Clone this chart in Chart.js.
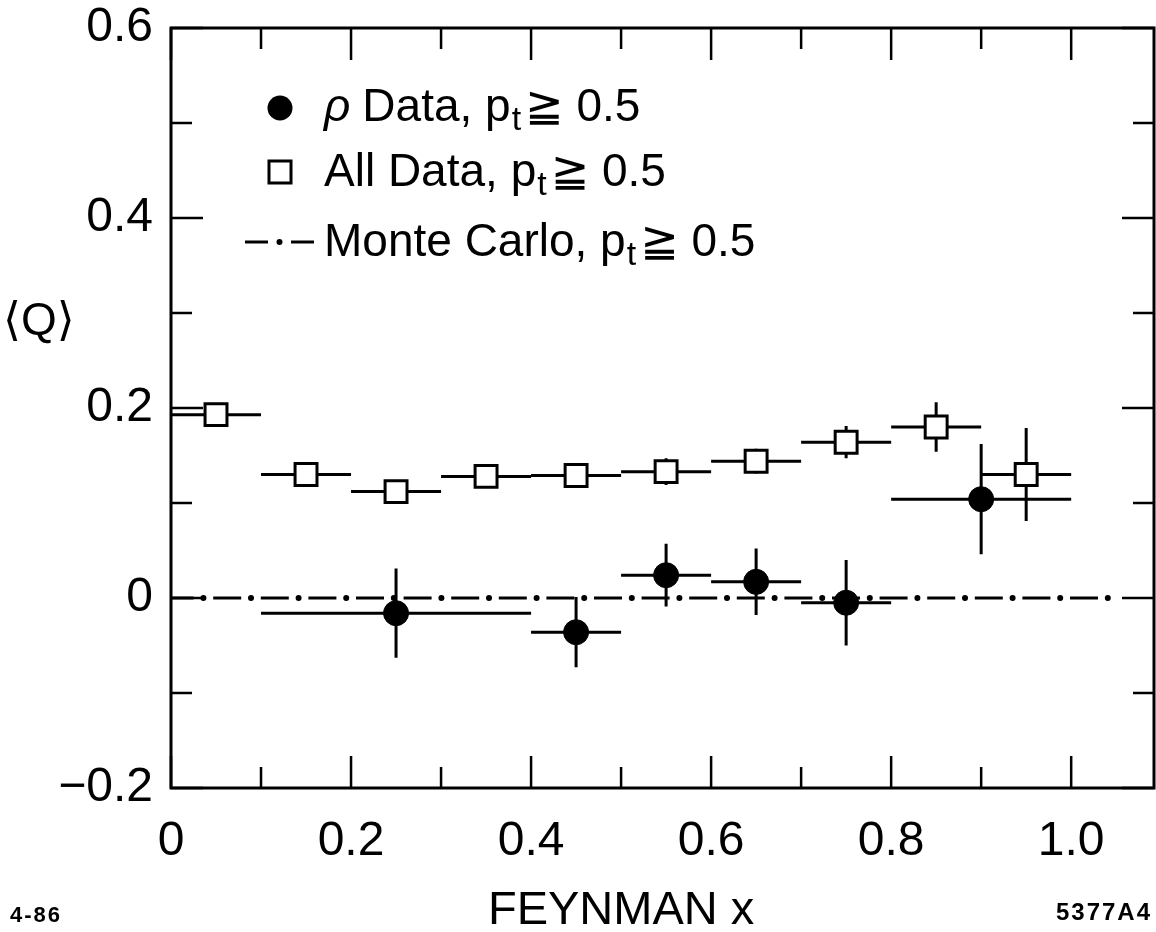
<!DOCTYPE html>
<html>
<head>
<meta charset="utf-8">
<script src="https://cdn.jsdelivr.net/npm/chart.js@4"></script>
<style>
  body { margin: 0; background: #fff; }
</style>
</head>
<body>
<canvas id="qChart" width="1156" height="932"></canvas>
<script>
// rho data, pt >= 0.5
const rhoX = [0.25, 0.45, 0.55, 0.65, 0.75, 0.90];
const rhoY = [-0.016, -0.036, 0.024, 0.017, -0.005, 0.104];
const rhoXLo = [0.10, 0.40, 0.50, 0.60, 0.70, 0.80];
const rhoXHi = [0.40, 0.50, 0.60, 0.70, 0.80, 1.00];
const rhoYErr = [0.047, 0.037, 0.033, 0.035, 0.045, 0.058];

// all data, pt >= 0.5
const allX = [0.05, 0.15, 0.25, 0.35, 0.45, 0.55, 0.65, 0.75, 0.85, 0.95];
const allY = [0.193, 0.130, 0.112, 0.128, 0.129, 0.133, 0.144, 0.164, 0.180, 0.130];
const allXLo = [0.0, 0.1, 0.2, 0.3, 0.4, 0.5, 0.6, 0.7, 0.8, 0.9];
const allXHi = [0.1, 0.2, 0.3, 0.4, 0.5, 0.6, 0.7, 0.8, 0.9, 1.0];
const allYErr = [0.006, 0.006, 0.006, 0.006, 0.006, 0.014, 0.013, 0.017, 0.026, 0.049];

// monte carlo
const mcX = [0, 1.045];
const mcY = [0, 0];

const xTickVals = [0, 0.2, 0.4, 0.6, 0.8, 1.0];
const xTickLabels = ['0', '0.2', '0.4', '0.6', '0.8', '1.0'];
const xMinorVals = [0.1, 0.3, 0.5, 0.7, 0.9];
const yTickVals = [-0.2, 0, 0.2, 0.4, 0.6];
const yTickLabels = ['\u22120.2', '0', '0.2', '0.4', '0.6'];
const yMinorVals = [-0.1, 0.1, 0.3, 0.5];

const legendLabels = ['Data, p', 'All Data, p', 'Monte Carlo, p'];

const FONT = '"Liberation Sans", "DejaVu Sans", sans-serif';

const toPoints = (xs, ys) => xs.map((x, i) => ({x: x, y: ys[i]}));

const noPad = s => { s.paddingTop = 0; s.paddingBottom = 0; s.paddingLeft = 0; s.paddingRight = 0; };

const extras = {
    id: 'extras',
    beforeDatasetsDraw(chart) {
        const ctx = chart.ctx;
        const xs = chart.scales.x, ys = chart.scales.y;
        ctx.save();
        ctx.strokeStyle = '#000';
        ctx.lineWidth = 3;
        const bars = (X, Y, lo, hi, err) => {
            for (let i = 0; i < X.length; i++) {
                const px = xs.getPixelForValue(X[i]);
                const py = ys.getPixelForValue(Y[i]);
                ctx.beginPath();
                ctx.moveTo(xs.getPixelForValue(lo[i]), py);
                ctx.lineTo(xs.getPixelForValue(hi[i]), py);
                ctx.moveTo(px, ys.getPixelForValue(Y[i] + err[i]));
                ctx.lineTo(px, ys.getPixelForValue(Y[i] - err[i]));
                ctx.stroke();
            }
        };
        bars(allX, allY, allXLo, allXHi, allYErr);
        bars(rhoX, rhoY, rhoXLo, rhoXHi, rhoYErr);
        ctx.restore();
    },
    afterDraw(chart) {
        const ctx = chart.ctx;
        const a = chart.chartArea;
        const xs = chart.scales.x, ys = chart.scales.y;
        ctx.save();
        ctx.strokeStyle = '#000';
        ctx.fillStyle = '#000';

        // frame
        ctx.lineWidth = 3;
        ctx.strokeRect(a.left, a.top, a.right - a.left, a.bottom - a.top);

        // inward ticks
        ctx.lineWidth = 2.5;
        const xTick = (v, len) => {
            const px = xs.getPixelForValue(v);
            ctx.beginPath();
            ctx.moveTo(px, a.bottom); ctx.lineTo(px, a.bottom - len);
            ctx.moveTo(px, a.top); ctx.lineTo(px, a.top + len);
            ctx.stroke();
        };
        const yTick = (v, len) => {
            const py = ys.getPixelForValue(v);
            ctx.beginPath();
            ctx.moveTo(a.left, py); ctx.lineTo(a.left + len, py);
            ctx.moveTo(a.right, py); ctx.lineTo(a.right - len, py);
            ctx.stroke();
        };
        xTickVals.forEach(v => xTick(v, 32));
        xMinorVals.forEach(v => xTick(v, 21));
        yTickVals.forEach(v => yTick(v, 32));
        yMinorVals.forEach(v => yTick(v, 21));

        // axis titles
        ctx.textBaseline = 'alphabetic';
        ctx.textAlign = 'center';
        ctx.font = '47px ' + FONT;
        ctx.fillText('FEYNMAN x', xs.getPixelForValue(0.5), 924);
        ctx.textAlign = 'left';
        ctx.font = '46px ' + FONT;
        ctx.fillText('\u27E8Q\u27E9', 3, 335);

        // plate numbers
        ctx.font = 'bold 22px ' + FONT;
        ctx.letterSpacing = '2px';
        ctx.fillText('4-86', 10, 922);
        ctx.textAlign = 'right';
        ctx.font = 'bold 24px ' + FONT;
        ctx.fillText('5377A4', 1152, 920);
        ctx.letterSpacing = '0px';

        // legend markers
        ctx.beginPath();
        ctx.arc(280, 108, 12.5, 0, Math.PI * 2);
        ctx.fill();
        ctx.lineWidth = 3;
        ctx.strokeRect(269, 161, 22, 22);
        ctx.beginPath();
        ctx.moveTo(245, 242); ctx.lineTo(268, 242);
        ctx.moveTo(291, 242); ctx.lineTo(314, 242);
        ctx.stroke();
        ctx.beginPath();
        ctx.arc(279.5, 242, 3, 0, Math.PI * 2);
        ctx.fill();

        // legend text with subscript t
        ctx.textAlign = 'left';
        const rows = [121, 186, 256];
        rows.forEach((by, i) => {
            let x = 324;
            if (i === 0) {
                ctx.font = 'italic 46px ' + FONT;
                ctx.fillText('\u03C1', x, by);
                x += ctx.measureText('\u03C1').width + 12;
            }
            ctx.font = '46px ' + FONT;
            ctx.fillText(legendLabels[i], x, by);
            x += ctx.measureText(legendLabels[i]).width + 1;
            ctx.font = '34px ' + FONT;
            ctx.fillText('t', x, by + 9);
            x += ctx.measureText('t').width + 4;
            ctx.font = '46px ' + FONT;
            ctx.fillText('\u2267 0.5', x, by);
        });
        ctx.restore();
    }
};

new Chart(document.getElementById('qChart').getContext('2d'), {
    type: 'scatter',
    data: {
        datasets: [
            {
                label: '\u03C1 Data, pt \u2267 0.5',
                data: toPoints(rhoX, rhoY),
                pointStyle: 'circle',
                pointRadius: 12.5,
                pointBackgroundColor: '#000',
                pointBorderColor: '#000',
                pointBorderWidth: 1,
                order: 1
            },
            {
                label: 'All Data, pt \u2267 0.5',
                data: toPoints(allX, allY),
                pointStyle: 'rect',
                pointRadius: 15.5,
                pointBackgroundColor: '#fff',
                pointBorderColor: '#000',
                pointBorderWidth: 3,
                order: 2
            },
            {
                // dashes of the dash-dot line
                label: 'Monte Carlo, pt \u2267 0.5',
                type: 'line',
                data: toPoints(mcX, mcY),
                showLine: true,
                pointRadius: 0,
                borderColor: '#000',
                borderWidth: 3,
                borderDash: [28, 19.6],
                borderDashOffset: 5.4,
                fill: false,
                order: 3
            },
            {
                // dots of the dash-dot line
                label: 'Monte Carlo dots',
                type: 'line',
                data: toPoints(mcX, mcY),
                showLine: true,
                pointRadius: 0,
                borderColor: '#000',
                borderWidth: 6,
                borderCapStyle: 'round',
                borderDash: [0.01, 47.59],
                borderDashOffset: 15.2,
                fill: false,
                order: 3
            }
        ]
    },
    options: {
        responsive: false,
        devicePixelRatio: 1,
        animation: false,
        events: [],
        layout: { autoPadding: false, padding: { top: 28, right: 2, left: 0, bottom: 0 } },
        plugins: { legend: { display: false }, tooltip: { enabled: false } },
        scales: {
            x: {
                type: 'linear',
                min: 0,
                max: 1.092,
                afterBuildTicks: s => { s.ticks = xTickVals.map(v => ({value: v})); },
                afterFit: s => { s.height = 144; noPad(s); },
                grid: { display: false },
                border: { display: false },
                ticks: {
                    padding: 17,
                    color: '#000',
                    font: { family: FONT, size: 48 },
                    callback: (v, i) => xTickLabels[i]
                }
            },
            y: {
                type: 'linear',
                min: -0.2,
                max: 0.6,
                afterBuildTicks: s => { s.ticks = yTickVals.map(v => ({value: v})); },
                afterFit: s => { s.width = 171; noPad(s); },
                grid: { display: false },
                border: { display: false },
                ticks: {
                    padding: 10,
                    color: '#000',
                    font: { family: FONT, size: 48 },
                    callback: (v, i) => yTickLabels[i]
                }
            }
        }
    },
    plugins: [extras]
});
</script>
</body>
</html>
